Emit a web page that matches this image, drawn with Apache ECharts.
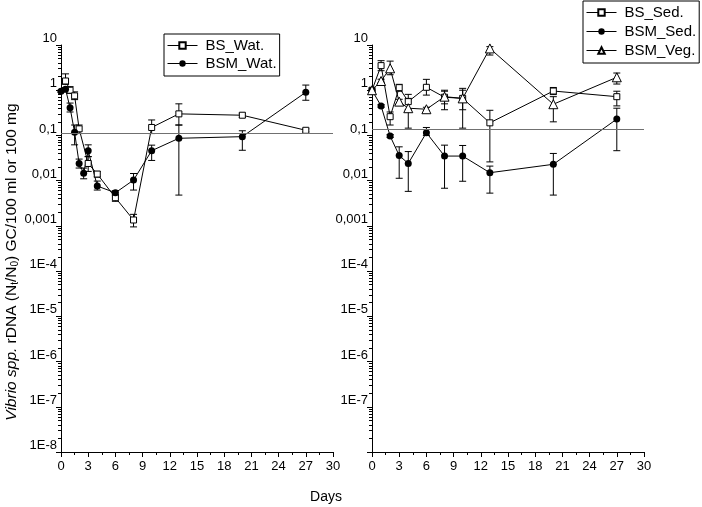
<!DOCTYPE html>
<html>
<head>
<meta charset="utf-8">
<script src="https://cdn.jsdelivr.net/npm/echarts@6/dist/echarts.min.js"></script>
<style>
html, body { margin: 0; padding: 0; background: #fff; }
#chart { width: 702px; height: 507px; }
</style>
</head>
<body>
<div id="chart"></div>
<script>
// ---- data ----
var yTickLabelsLeft = ['1E-8', '1E-7', '1E-6', '1E-5', '1E-4', '0,001', '0,01', '0,1', '1', '10'];
var yTickLabelsRight = ['', '1E-7', '1E-6', '1E-5', '1E-4', '0,001', '0,01', '0,1', '1', '10'];

// water (left panel)
var bsWatDays = [0.5, 1, 1.5, 2, 3, 4, 6, 8, 10, 13, 20, 27];
var bsWatVals = [1.6, 1.0, 0.75, 0.14, 0.024, 0.014, 0.0042, 0.00135, 0.15, 0.3, 0.28, 0.13];
var bsWatLow  = [1.35, 0.85, 0.62, 0.11, 0.016, 0.012, 0.0035, 0.00095, 0.11, 0.17, 0.25, 0.12];
var bsWatHigh = [2.3, 1.2, 0.92, 0.17, 0.034, 0.016, 0.005, 0.0018, 0.22, 0.5, 0.31, 0.14];

var bsmWatDays = [0, 0.5, 1, 1.5, 2, 2.5, 3, 4, 6, 8, 10, 13, 20, 27];
var bsmWatVals = [0.95, 1.05, 0.41, 0.117, 0.024, 0.0145, 0.046, 0.0076, 0.0054, 0.0103, 0.046, 0.0865, 0.094, 0.9];
var bsmWatLow  = [0.9, 0.95, 0.33, 0.062, 0.019, 0.011, 0.034, 0.0062, 0.0048, 0.0062, 0.028, 0.0048, 0.047, 0.6];
var bsmWatHigh = [1.0, 1.15, 0.52, 0.17, 0.03, 0.019, 0.062, 0.0098, 0.006, 0.0144, 0.061, 0.17, 0.127, 1.3];

// sediment / vegetation (right panel)
var sedDays = [0, 1, 2, 3, 4, 6, 8, 10, 13, 20, 27];
var bsSedVals = [1.0, 3.5, 0.26, 1.14, 0.56, 1.16, 0.70, 0.66, 0.19, 0.96, 0.72];
var bsSedLow  = [null, 2.7, 0.17, 0.95, 0.37, 0.78, 0.5, 0.145, 0.026, 0.8, 0.45];
var bsSedHigh = [null, 4.5, 0.33, 1.35, 0.81, 1.74, 0.95, 1.0, 0.36, 1.15, 0.95];

var bsmSedVals = [1.0, 0.45, 0.097, 0.036, 0.024, 0.115, 0.035, 0.035, 0.015, 0.023, 0.23];
var bsmSedLow  = [null, 0.42, 0.09, 0.0113, 0.0058, 0.1, 0.0068, 0.0097, 0.0053, 0.0048, 0.046];
var bsmSedHigh = [null, 0.48, 0.105, 0.056, 0.044, 0.15, 0.061, 0.06, 0.021, 0.040, 0.4];

var bsmVegVals = [1.0, 1.6, 3.05, 0.56, 0.40, 0.38, 0.72, 0.66, 8.4, 0.49, 1.93];
var bsmVegLow  = [null, 1.45, 2.2, 0.5, 0.145, 0.35, 0.37, 0.37, 6.0, 0.2, 1.37];
var bsmVegHigh = [null, 1.75, 4.4, 0.63, 0.66, 0.42, 1.0, 1.1, 9.2, 0.72, 2.4];

var limitWat = 0.111;
var limitSed = 0.145;

var yTitle = '{it|Vibrio spp.} rDNA (N{sub|t}/N{sub|0}) GC/100 ml or 100 mg';

// ---- helpers ----
var FONT = '"Liberation Sans", Arial, sans-serif';

function minorLogTicks() {
	var out = [];
	for (var e = -8; e < 1; e++) {
		for (var k = 2; k < 10; k++) {
			out.push(k * Math.pow(10, e));
		}
	}
	return out;
}

function pairs(days, vals) {
	return days.map(function(d, i) { return [d, vals[i]]; });
}

function errData(days, lo, hi) {
	var out = [];
	days.forEach(function(d, i) {
		if (lo[i] != null) out.push([d, lo[i], hi[i]]);
	});
	return out;
}

function renderErr(params, api) {
	var x = api.value(0);
	var p1 = api.coord([x, api.value(1)]);
	var p2 = api.coord([x, api.value(2)]);
	var w = 3.5;
	var st = { stroke: '#000', lineWidth: 1 };
	return {
		type: 'group',
		children: [
			{ type: 'line', shape: { x1: p1[0], y1: p1[1], x2: p2[0], y2: p2[1] }, style: st },
			{ type: 'line', shape: { x1: p1[0] - w, y1: p1[1], x2: p1[0] + w, y2: p1[1] }, style: st },
			{ type: 'line', shape: { x1: p2[0] - w, y1: p2[1], x2: p2[0] + w, y2: p2[1] }, style: st }
		]
	};
}

function errSeries(name, days, lo, hi, idx) {
	return {
		name: name,
		type: 'custom',
		xAxisIndex: idx,
		yAxisIndex: idx * 2,
		renderItem: renderErr,
		encode: { x: 0, y: [1, 2] },
		data: errData(days, lo, hi),
		silent: true,
		z: 1
	};
}

var symbolStyles = {
	square: { symbol: 'rect', symbolSize: 6, itemStyle: { color: '#fff', borderColor: '#000', borderWidth: 1 } },
	dot: { symbol: 'circle', symbolSize: 7, itemStyle: { color: '#000', borderColor: '#000', borderWidth: 0 } },
	tri: { symbol: 'triangle', symbolSize: 9, itemStyle: { color: '#fff', borderColor: '#000', borderWidth: 1 } }
};

function lineSeries(name, days, vals, sym, idx, limit) {
	var s = {
		name: name,
		type: 'line',
		xAxisIndex: idx,
		yAxisIndex: idx * 2,
		data: pairs(days, vals),
		symbol: symbolStyles[sym].symbol,
		symbolSize: symbolStyles[sym].symbolSize,
		itemStyle: symbolStyles[sym].itemStyle,
		lineStyle: { color: '#000', width: 1 },
		showAllSymbol: true,
		emphasis: { disabled: true },
		z: 2
	};
	if (limit != null) {
		s.markLine = {
			silent: true,
			symbol: 'none',
			label: { show: false },
			lineStyle: { color: '#707070', type: 'solid', width: 1 },
			data: [{ yAxis: limit }]
		};
	}
	return s;
}

function xAxisOf(grid) {
	return {
		gridIndex: grid,
		type: 'value',
		min: 0,
		max: 30,
		interval: 3,
		axisLine: { lineStyle: { color: '#000', width: 1 } },
		axisTick: { length: 5, lineStyle: { color: '#000' } },
		minorTick: { show: true, splitNumber: 2, length: 3, lineStyle: { color: '#000' } },
		axisLabel: { color: '#000', fontSize: 13, fontFamily: FONT, margin: 8 },
		splitLine: { show: false }
	};
}

function yAxisOf(grid, labels) {
	return {
		gridIndex: grid,
		type: 'log',
		logBase: 10,
		position: 'left',
		min: 1e-8,
		max: 10,
		axisLine: { show: true, lineStyle: { color: '#000', width: 1 } },
		axisTick: { show: true, length: 5, lineStyle: { color: '#000' } },
		axisLabel: {
			color: '#000', fontSize: 13, fontFamily: FONT, margin: 4,
			verticalAlign: 'bottom',
			formatter: function(v) {
				var e = Math.round(Math.log10(v));
				return labels[e + 8] || '';
			}
		},
		splitLine: { show: false }
	};
}

function minorYAxisOf(grid) {
	return {
		gridIndex: grid,
		type: 'log',
		logBase: 10,
		position: 'left',
		min: 1e-8,
		max: 10,
		axisLine: { show: false },
		axisLabel: { show: false },
		splitLine: { show: false },
		axisTick: { show: true, length: 3, lineStyle: { color: '#000' }, customValues: minorLogTicks() }
	};
}

function legendOf(names, left, top, gap) {
	return {
		data: names,
		orient: 'vertical',
		left: left,
		top: top,
		itemWidth: 30,
		itemHeight: 8,
		itemGap: gap,
		padding: [4, 3, 5, 3],
		borderColor: '#000',
		borderWidth: 1,
		borderRadius: 0,
		backgroundColor: '#fff',
		selectedMode: false,
		lineStyle: { width: 1, color: '#000' },
		textStyle: { color: '#000', fontSize: 15, fontFamily: FONT, padding: [0, 0, 0, 3] }
	};
}

var option = {
	animation: false,
	backgroundColor: '#fff',
	textStyle: { fontFamily: FONT },
	grid: [
		{ left: 61, top: 45, width: 272, height: 407 },
		{ left: 372, top: 45, width: 272, height: 407 }
	],
	legend: [
		legendOf(['BS_Wat.', 'BSM_Wat.'], 164, 34, 3),
		legendOf(['BS_Sed.', 'BSM_Sed.', 'BSM_Veg.'], 583, 1, 4)
	],
	xAxis: [xAxisOf(0), xAxisOf(1)],
	yAxis: [
		yAxisOf(0, yTickLabelsLeft),
		minorYAxisOf(0),
		yAxisOf(1, yTickLabelsRight),
		minorYAxisOf(1)
	],
	graphic: [{
		type: 'text',
		x: 326,
		y: 497,
		style: {
			text: 'Days', fill: '#000', font: '14px ' + FONT,
			align: 'center', verticalAlign: 'middle'
		}
	}, {
		type: 'text',
		x: 12,
		y: 262,
		rotation: Math.PI / 2,
		style: {
			text: yTitle, fill: '#000', font: '15.5px ' + FONT,
			align: 'center', verticalAlign: 'middle',
			rich: {
				it: { fontStyle: 'italic', fontSize: 15.5, fontFamily: FONT, fill: '#000' },
				sub: { fontSize: 10, fontFamily: FONT, fill: '#000', padding: [7, 0, 0, 0] }
			}
		}
	}],
	series: [
		errSeries('bsWatErr', bsWatDays, bsWatLow, bsWatHigh, 0),
		errSeries('bsmWatErr', bsmWatDays, bsmWatLow, bsmWatHigh, 0),
		lineSeries('BS_Wat.', bsWatDays, bsWatVals, 'square', 0, limitWat),
		lineSeries('BSM_Wat.', bsmWatDays, bsmWatVals, 'dot', 0, null),

		errSeries('bsSedErr', sedDays, bsSedLow, bsSedHigh, 1),
		errSeries('bsmSedErr', sedDays, bsmSedLow, bsmSedHigh, 1),
		errSeries('bsmVegErr', sedDays, bsmVegLow, bsmVegHigh, 1),
		lineSeries('BS_Sed.', sedDays, bsSedVals, 'square', 1, limitSed),
		lineSeries('BSM_Sed.', sedDays, bsmSedVals, 'dot', 1, null),
		lineSeries('BSM_Veg.', sedDays, bsmVegVals, 'tri', 1, null)
	]
};

var myChart = echarts.init(document.getElementById('chart'));
myChart.setOption(option);
</script>
</body>
</html>
